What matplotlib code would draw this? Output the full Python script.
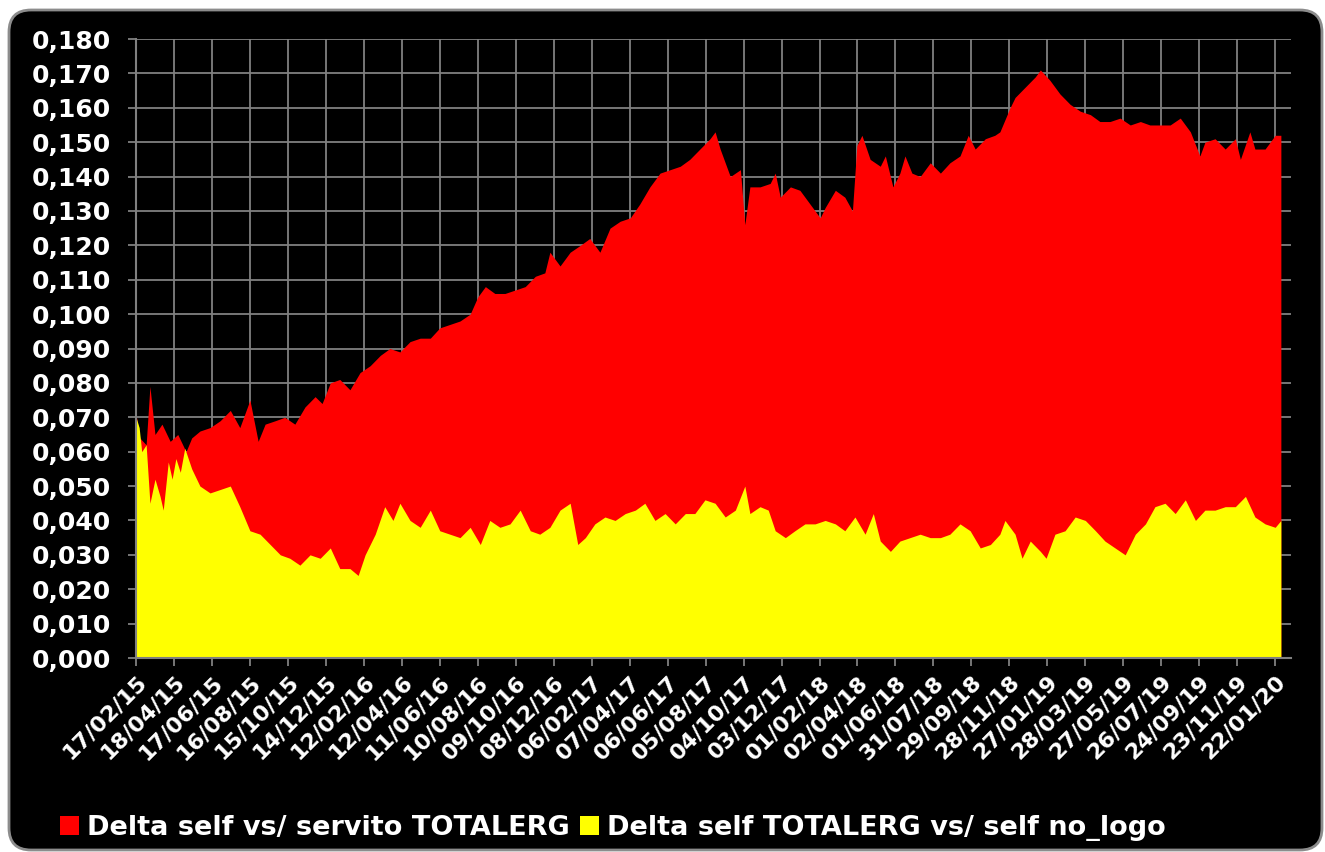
import numpy as np
import pandas as pd
import matplotlib
matplotlib.use('Agg')
import matplotlib.pyplot as plt
from matplotlib.patches import FancyBboxPatch, Patch
from matplotlib.ticker import FuncFormatter

start = pd.Timestamp('2015-02-17')

# days after 17/02/15 and value of "Delta self vs/ servito TOTALERG"
red_days = [0, 6, 16, 22, 30, 41, 54, 66, 79, 88, 101, 117, 133, 149, 164, 180, 193, 204,
            220, 235, 251, 267, 283, 294, 307, 322, 338, 354, 370, 386, 401, 417, 433, 449,
            465, 480, 496, 512, 528, 540, 552, 567, 583, 599, 615, 631, 646, 654, 670, 686,
            702, 717, 733, 749, 765, 781, 796, 812, 828, 844, 860, 875, 891, 907, 915, 923,
            939, 955, 962, 970, 986, 1002, 1010, 1018, 1034, 1049, 1065, 1081, 1089, 1105,
            1120, 1132, 1139, 1147, 1160, 1176, 1184, 1196, 1207, 1215, 1226, 1239, 1255,
            1271, 1286, 1302, 1315, 1326, 1342, 1357, 1365, 1381, 1389, 1405, 1421, 1429,
            1444, 1460, 1476, 1492, 1508, 1523, 1539, 1555, 1571, 1587, 1602, 1618, 1634,
            1650, 1666, 1681, 1689, 1705, 1721, 1737, 1745, 1760, 1768, 1784, 1800, 1809]
red_vals = [0.071, 0.064, 0.062, 0.079, 0.065, 0.068, 0.063, 0.065, 0.060, 0.064, 0.066,
            0.067, 0.069, 0.072, 0.067, 0.075, 0.063, 0.068, 0.069, 0.070, 0.068, 0.073,
            0.076, 0.074, 0.080, 0.081, 0.078, 0.083, 0.085, 0.088, 0.090, 0.089, 0.092,
            0.093, 0.093, 0.096, 0.097, 0.098, 0.100, 0.105, 0.108, 0.106, 0.106, 0.107,
            0.108, 0.111, 0.112, 0.118, 0.114, 0.118, 0.120, 0.122, 0.118, 0.125, 0.127,
            0.128, 0.132, 0.137, 0.141, 0.142, 0.143, 0.145, 0.148, 0.151, 0.153, 0.148,
            0.140, 0.142, 0.126, 0.137, 0.137, 0.138, 0.141, 0.134, 0.137, 0.136, 0.132,
            0.128, 0.131, 0.136, 0.134, 0.130, 0.149, 0.152, 0.145, 0.143, 0.146, 0.137,
            0.141, 0.146, 0.141, 0.140, 0.144, 0.141, 0.144, 0.146, 0.152, 0.148, 0.151,
            0.152, 0.153, 0.160, 0.163, 0.166, 0.169, 0.171, 0.168, 0.164, 0.161, 0.159,
            0.158, 0.156, 0.156, 0.157, 0.155, 0.156, 0.155, 0.155, 0.155, 0.157, 0.153,
            0.146, 0.150, 0.151, 0.148, 0.151, 0.145, 0.153, 0.148, 0.148, 0.152, 0.152]

# days after 17/02/15 and value of "Delta self TOTALERG vs/ self no_logo"
yel_days = [0, 5, 9, 16, 22, 30, 38, 43, 51, 57, 63, 70, 77, 88, 101, 117, 133, 149, 164,
            180, 196, 212, 228, 243, 259, 275, 291, 307, 322, 338, 351, 362, 378, 393, 406,
            417, 433, 449, 465, 480, 496, 512, 528, 544, 559, 575, 591, 607, 623, 638, 654,
            670, 686, 698, 710, 725, 741, 757, 773, 789, 804, 820, 836, 852, 868, 883, 899,
            915, 931, 947, 962, 970, 986, 999, 1010, 1026, 1041, 1057, 1073, 1089, 1105,
            1120, 1136, 1152, 1165, 1176, 1192, 1207, 1223, 1239, 1255, 1271, 1286, 1302,
            1318, 1334, 1350, 1365, 1373, 1389, 1400, 1413, 1429, 1438, 1452, 1468, 1484,
            1500, 1516, 1531, 1547, 1563, 1579, 1595, 1610, 1626, 1642, 1658, 1674, 1689,
            1705, 1721, 1737, 1753, 1768, 1784, 1800, 1809]
yel_vals = [0.070, 0.067, 0.060, 0.062, 0.045, 0.052, 0.047, 0.043, 0.057, 0.052, 0.058,
            0.054, 0.061, 0.055, 0.050, 0.048, 0.049, 0.050, 0.044, 0.037, 0.036, 0.033,
            0.030, 0.029, 0.027, 0.030, 0.029, 0.032, 0.026, 0.026, 0.024, 0.030, 0.036,
            0.044, 0.040, 0.045, 0.040, 0.038, 0.043, 0.037, 0.036, 0.035, 0.038, 0.033,
            0.040, 0.038, 0.039, 0.043, 0.037, 0.036, 0.038, 0.043, 0.045, 0.033, 0.035,
            0.039, 0.041, 0.040, 0.042, 0.043, 0.045, 0.040, 0.042, 0.039, 0.042, 0.042,
            0.046, 0.045, 0.041, 0.043, 0.050, 0.042, 0.044, 0.043, 0.037, 0.035, 0.037,
            0.039, 0.039, 0.040, 0.039, 0.037, 0.041, 0.036, 0.042, 0.034, 0.031, 0.034,
            0.035, 0.036, 0.035, 0.035, 0.036, 0.039, 0.037, 0.032, 0.033, 0.036, 0.040,
            0.036, 0.029, 0.034, 0.031, 0.029, 0.036, 0.037, 0.041, 0.040, 0.037, 0.034,
            0.032, 0.030, 0.036, 0.039, 0.044, 0.045, 0.042, 0.046, 0.040, 0.043, 0.043,
            0.044, 0.044, 0.047, 0.041, 0.039, 0.038, 0.040]

labels = ['Delta self vs/ servito TOTALERG', 'Delta self TOTALERG vs/ self no_logo']
tick_step = 60
n_ticks = 31

red_dates = start + pd.to_timedelta(red_days, unit='D')
yel_dates = start + pd.to_timedelta(yel_days, unit='D')
tick_dates = start + pd.to_timedelta(np.arange(n_ticks) * tick_step, unit='D')

W, H = 1325, 852
fig = plt.figure(figsize=(W / 100, H / 100), dpi=100, facecolor='white')

# black rounded panel behind everything
panel = FancyBboxPatch((9, 2), 1313, 840, boxstyle='round,pad=0,rounding_size=22',
                       transform=None, facecolor='black', edgecolor='#8c8c8c', lw=2,
                       zorder=-10)
fig.patches.append(panel)

ax = fig.add_axes([136 / W, 1 - 658 / H, (1291 - 136) / W, (658 - 39) / H])
ax.set_facecolor('black')

ax.fill_between(red_dates, 0, red_vals, color='#ff0000', lw=0, zorder=2)
ax.fill_between(yel_dates, 0, yel_vals, color='#ffff00', lw=0, zorder=3)

ax.set_ylim(0, 0.18)
ax.set_yticks(np.arange(0, 0.181, 0.01))
ax.yaxis.set_major_formatter(FuncFormatter(lambda v, p: f'{v:.3f}'.replace('.', ',')))
ax.set_xlim(start, start + pd.Timedelta(days=1825))
ax.set_xticks(tick_dates)
ax.set_xticklabels([d.strftime('%d/%m/%y') for d in tick_dates], rotation=45,
                   ha='right', rotation_mode='anchor')

ax.grid(True, color='#808080', lw=1.3, zorder=0)
ax.set_axisbelow(True)
for s in ['top', 'right']:
    ax.spines[s].set_visible(False)
for s in ['left', 'bottom']:
    ax.spines[s].set_color('#808080')
    ax.spines[s].set_linewidth(1.5)
    ax.spines[s].set_zorder(4)
ax.tick_params(axis='both', colors='#808080', width=1.3, length=6)
ax.tick_params(axis='y', labelcolor='white', labelsize=18, pad=12)
ax.tick_params(axis='x', labelcolor='white', labelsize=16, pad=4)
for t in ax.get_yticklabels() + ax.get_xticklabels():
    t.set_fontweight('bold')

handles = [Patch(facecolor='#ff0000', edgecolor='none'),
           Patch(facecolor='#ffff00', edgecolor='none')]
leg = fig.legend(handles, labels, loc='center left', bbox_to_anchor=(36 / W, 0.028), ncol=2,
                 frameon=False, handlelength=0.7, handleheight=0.7, handletextpad=0.3,
                 columnspacing=0.35, prop={'weight': 'bold', 'size': 19.5})
for t in leg.get_texts():
    t.set_color('white')

fig.savefig('out.png', dpi=100, facecolor='white')
